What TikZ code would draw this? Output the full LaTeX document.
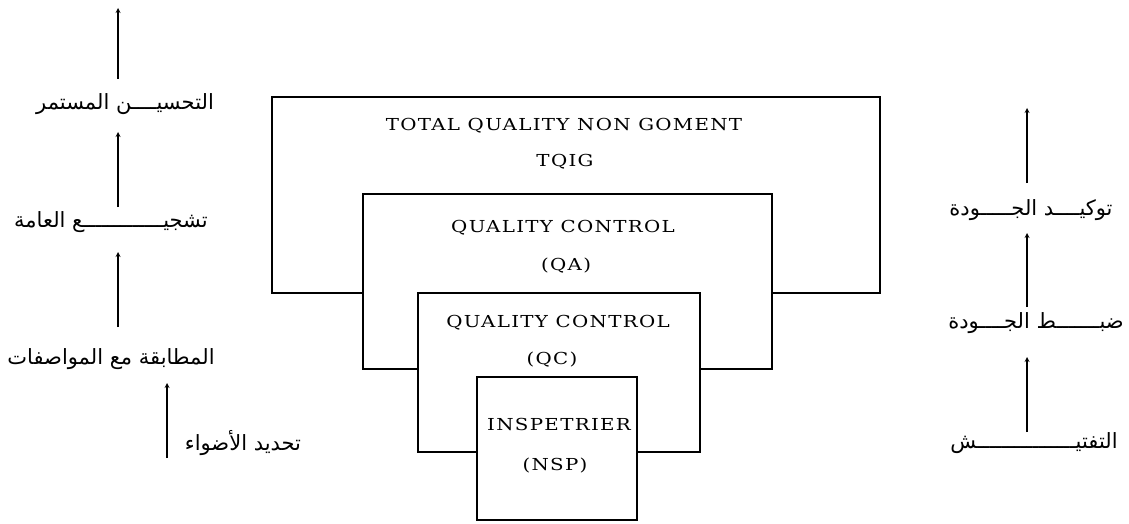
\documentclass[tikz,border=0pt]{standalone}
\usepackage{fontspec}
\setmainfont{Liberation Serif}
\newfontfamily\arabicfont[Script=Arabic]{DejaVu Sans}
\newfontfamily\capsfont[FakeStretch=1.2,LetterSpace=8]{DejaVu Serif}
\TeXXeTstate=1
\usetikzlibrary{calc}
\begin{document}
\begin{tikzpicture}[x=1pt,y=-1pt,
  box/.style={draw,fill=white,line width=1.5pt,inner sep=0pt},
  lbl/.style={font=\capsfont\fontsize{16.5}{20}\selectfont,inner sep=0pt,anchor=base},
  ar/.style={font=\arabicfont\fontsize{21}{24}\selectfont,inner sep=0pt},
  arr/.style={->,line width=1.2pt,>=stealth}]
\useasboundingbox (0,0) rectangle (1129,524);

% nested quality levels, outermost first so each inner box covers the one behind
\node[box,minimum width=608pt,minimum height=196pt] (tqm) at (576,195) {};
\node[box,minimum width=409pt,minimum height=175pt] (qa) at (567.5,281.5) {};
\node[box,minimum width=282pt,minimum height=159pt] (qc) at (559,372.5) {};
\node[box,minimum width=160pt,minimum height=143pt] (insp) at (557,448.5) {};

\node[lbl] (tqmA) at (564,131) {TOTAL QUALITY NON GOMENT};
\node[lbl] (tqmB) at (565,166) {TQIG};
\node[lbl] (qaA) at (563,232) {QUALITY CONTROL};
\node[lbl] (qaB) at (566,270) {(QA)};
\node[lbl] (qcA) at (558,327) {QUALITY CONTROL};
\node[lbl] (qcB) at (552,364) {(QC)};
\node[lbl] (inA) at (559,430) {INSPETRIER};
\node[lbl] (inB) at (555,470) {(NSP)};

% left ladder
\coordinate (colL) at (118,0);
\coordinate (topL) at (118,8);
\node[ar] (L1) at (125,104) {\beginR التحسيــــن المستمر\endR};
\node[ar] (L2) at (111,222) {\beginR تشجيـــــــــــــع العامة\endR};
\node[ar] (L3) at (111,359) {\beginR المطابقة مع المواصفات\endR};
\node[ar] (L4) at (243,443) {\beginR تحديد الأضواء\endR};
\coordinate (tailL4) at (167,458);

\draw[arr,shorten <=25pt] (L1.center -| colL) -- (topL);
\draw[arr,shorten <=15pt,shorten >=28pt] (L2.center -| colL) -- (L1.center -| colL);
\draw[arr,shorten <=32pt,shorten >=30pt] (L3.center -| colL) -- (L2.center -| colL);
\draw[arr,shorten >=24pt] (tailL4) -- (L3.center -| tailL4);

% right ladder
\coordinate (colR) at (1027,0);
\coordinate (topR) at (1027,108);
\node[ar] (R1) at (1031,210) {\beginR توكيــــد الجـــــودة\endR};
\node[ar] (R2) at (1036,323) {\beginR ضبـــــــط الجــــودة\endR};
\node[ar] (R3) at (1034,443) {\beginR التفتيــــــــــــــــش\endR};

\draw[arr,shorten <=27pt] (R1.center -| colR) -- (topR);
\draw[arr,shorten <=16pt,shorten >=23pt] (R2.center -| colR) -- (R1.center -| colR);
\draw[arr,shorten <=11pt,shorten >=34pt] (R3.center -| colR) -- (R2.center -| colR);
\end{tikzpicture}
\end{document}
